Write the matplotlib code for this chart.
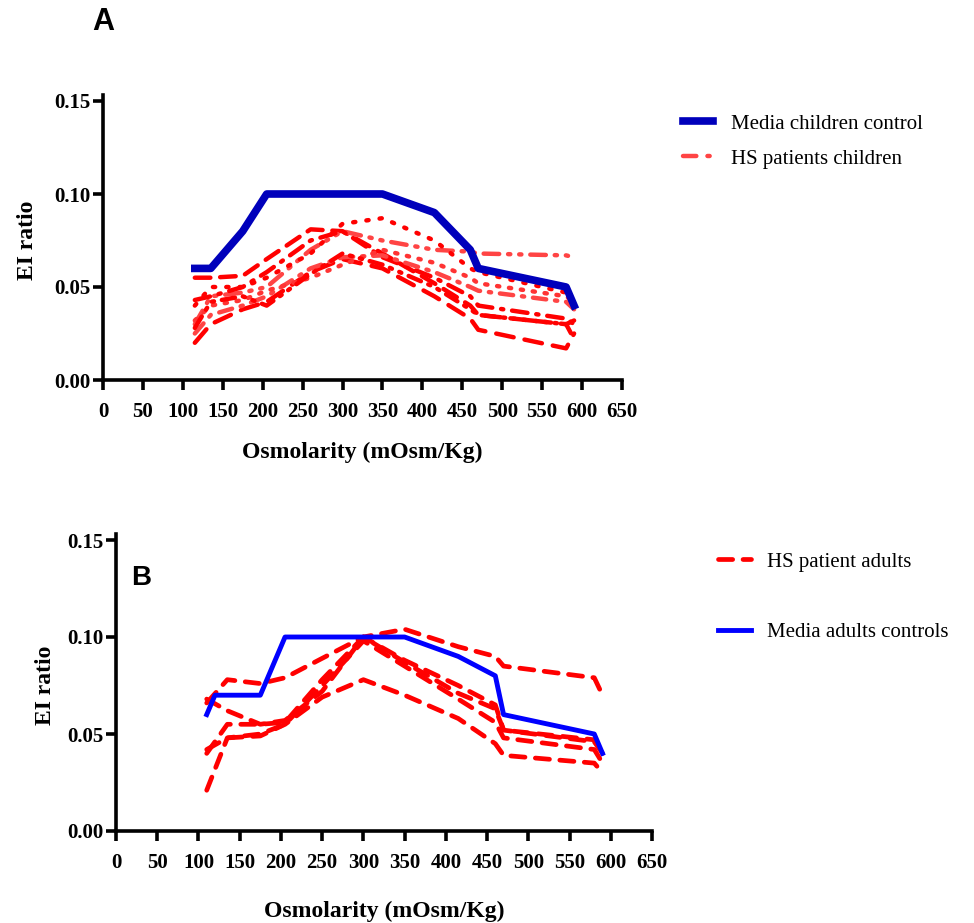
import numpy as np
import matplotlib
matplotlib.use('Agg')
from matplotlib import pyplot as plt
from matplotlib.lines import Line2D

# -----------------
# Data
# -----------------
osm_children = [115, 135, 175, 205, 260, 300, 350, 415, 460, 470, 580, 590]
control_children_x = [115, 135, 175, 205, 350, 415, 460, 470, 580, 590]
control_children_y = [0.060, 0.060, 0.080, 0.100, 0.100, 0.090, 0.070, 0.060, 0.050, 0.040]

hs_children = [
    [0.055, 0.055, 0.056, 0.065, 0.081, 0.080, 0.068, 0.052, 0.040, 0.035, 0.030, 0.022],
    [0.030, 0.045, 0.047, 0.050, 0.070, 0.080, 0.075, 0.070, 0.069, 0.068, 0.067, 0.066],
    [0.040, 0.050, 0.050, 0.055, 0.068, 0.084, 0.087, 0.075, 0.060, 0.058, 0.047, 0.036],
    [0.020, 0.030, 0.038, 0.042, 0.058, 0.065, 0.060, 0.045, 0.033, 0.027, 0.017, 0.025],
    [0.043, 0.045, 0.050, 0.058, 0.075, 0.080, 0.066, 0.055, 0.045, 0.040, 0.033, 0.030],
    [0.025, 0.035, 0.040, 0.045, 0.060, 0.066, 0.067, 0.058, 0.050, 0.048, 0.042, 0.038],
    [0.032, 0.040, 0.043, 0.048, 0.055, 0.062, 0.070, 0.063, 0.055, 0.052, 0.045, 0.042],
    [0.028, 0.042, 0.045, 0.040, 0.057, 0.068, 0.062, 0.050, 0.038, 0.035, 0.030, 0.032],
]

osm_adults = [110, 135, 175, 205, 250, 300, 350, 415, 460, 470, 580, 590]
control_adults_x = [110, 120, 175, 205, 350, 415, 460, 470, 580, 590]
control_adults_y = [0.060, 0.070, 0.070, 0.100, 0.100, 0.090, 0.080, 0.060, 0.050, 0.040]

hs_adults = [
    [0.066, 0.078, 0.076, 0.079, 0.089, 0.100, 0.104, 0.095, 0.090, 0.085, 0.079, 0.070],
    [0.040, 0.055, 0.055, 0.056, 0.078, 0.100, 0.087, 0.071, 0.063, 0.052, 0.047, 0.040],
    [0.021, 0.048, 0.050, 0.055, 0.075, 0.098, 0.085, 0.068, 0.056, 0.048, 0.042, 0.035],
    [0.042, 0.048, 0.049, 0.055, 0.069, 0.078, 0.070, 0.058, 0.045, 0.039, 0.035, 0.030],
    [0.068, 0.062, 0.055, 0.057, 0.072, 0.100, 0.088, 0.075, 0.065, 0.052, 0.046, 0.040],
]

x_ticks = np.arange(0, 651, 50)
y_ticks = [0.00, 0.05, 0.10, 0.15]

# -----------------
# Styling
# -----------------
plt.rcParams['font.family'] = ['Liberation Serif', 'DejaVu Serif']
TICK_FONT = 15
LABEL_FONT = 17
LEGEND_FONT = 15

child_styles = [
    ('#ff0000', (0, (3.5, 2.2))),
    ('#ff4444', (0, (3.5, 2, 0.5, 2, 0.5, 2))),
    ('#ff0000', (0, (0.5, 2.5))),
    ('#ff0000', (0, (4, 2.5))),
    ('#ff0000', (0, (3.5, 2, 0.5, 2))),
    ('#ff4444', (0, (3, 2, 0.5, 2))),
    ('#ff3333', (0, (0.5, 2.2))),
    ('#ff0000', (0, (3, 1.8, 0.5, 1.8, 0.5, 1.8))),
]


def style_axes(ax, xlabelpad):
    for side in ('top', 'right'):
        ax.spines[side].set_visible(False)
    for side in ('left', 'bottom'):
        ax.spines[side].set_linewidth(2.6)
    ax.set_xlim(0, 650)
    ax.set_ylim(0, 0.15)
    ax.spines['left'].set_bounds(0, 0.153)
    ax.set_xticks(x_ticks)
    ax.set_yticks(y_ticks)
    ax.set_yticklabels([f'{v:.2f}' for v in y_ticks])
    ax.tick_params(direction='out', length=7, width=2.6, labelsize=TICK_FONT)
    ax.tick_params(axis='x', pad=9)
    ax.tick_params(axis='y', pad=2)
    for lbl in ax.get_xticklabels() + ax.get_yticklabels():
        lbl.set_fontweight('bold')
    ax.set_xlabel('Osmolarity (mOsm/Kg)', fontsize=LABEL_FONT, fontweight='bold', labelpad=xlabelpad)


fig = plt.figure(figsize=(9.74, 9.23), dpi=100)

# -----------------
# Panel A
# -----------------
ax_a = fig.add_axes([103 / 974, 1 - 380 / 923, 519 / 974, 279 / 923])
for values, (color, dash) in zip(hs_children, child_styles):
    ax_a.plot(osm_children, values, color=color, linestyle=dash, linewidth=3.2,
              dash_capstyle='round', clip_on=False)
ax_a.plot(control_children_x, control_children_y, color='#0000bb', linewidth=5.5, clip_on=False)
style_axes(ax_a, 14)
ax_a.set_ylabel('EI ratio', fontsize=LABEL_FONT, fontweight='bold', labelpad=12)

handles_a = [
    Line2D([], [], color='#0000bb', linewidth=5.5),
    Line2D([], [], color='#ff4444', linestyle=(0, (3, 2.5, 0.5, 2.5)), linewidth=3.2,
           dash_capstyle='round'),
]
fig.legend(handles_a, ['Media children control', 'HS patients children'], loc='upper left',
           bbox_to_anchor=(683 / 974, 1 - 114 / 923), frameon=False, fontsize=LEGEND_FONT,
           borderpad=0, borderaxespad=0, handlelength=1.45, handletextpad=0.85,
           labelspacing=0.75)

fig.text(103 / 974, 1 - 22 / 923, 'A', fontsize=22, fontweight='bold', family='Liberation Sans',
         ha='center', va='center')

# -----------------
# Panel B
# -----------------
ax_b = fig.add_axes([116 / 974, 1 - 831 / 923, 536 / 974, 291 / 923])
for values in hs_adults:
    ax_b.plot(osm_adults, values, color='#ff0000', linestyle=(0, (3, 2.2)), linewidth=3.4,
              dash_capstyle='round', clip_on=False)
ax_b.plot(control_adults_x, control_adults_y, color='#0000ff', linewidth=3.5, clip_on=False)
style_axes(ax_b, 20)
ax_b.set_ylabel('EI ratio', fontsize=LABEL_FONT, fontweight='bold', labelpad=8)

handles_b = [
    Line2D([], [], color='#ff0000', linestyle=(0, (3, 2.2)), linewidth=3.4, dash_capstyle='round'),
    Line2D([], [], color='#0000ff', linewidth=3.5),
]
fig.legend(handles_b, ['HS patient adults', 'Media adults controls'], loc='upper left',
           bbox_to_anchor=(718 / 974, 1 - 552 / 923), frameon=False, fontsize=LEGEND_FONT,
           borderpad=0, borderaxespad=0, handlelength=1.6, handletextpad=0.75,
           labelspacing=2.45)

fig.text(141 / 974, 1 - 578 / 923, 'B', fontsize=20, fontweight='bold', family='Liberation Sans',
         ha='center', va='center')

fig.savefig('out.png', dpi=100)
